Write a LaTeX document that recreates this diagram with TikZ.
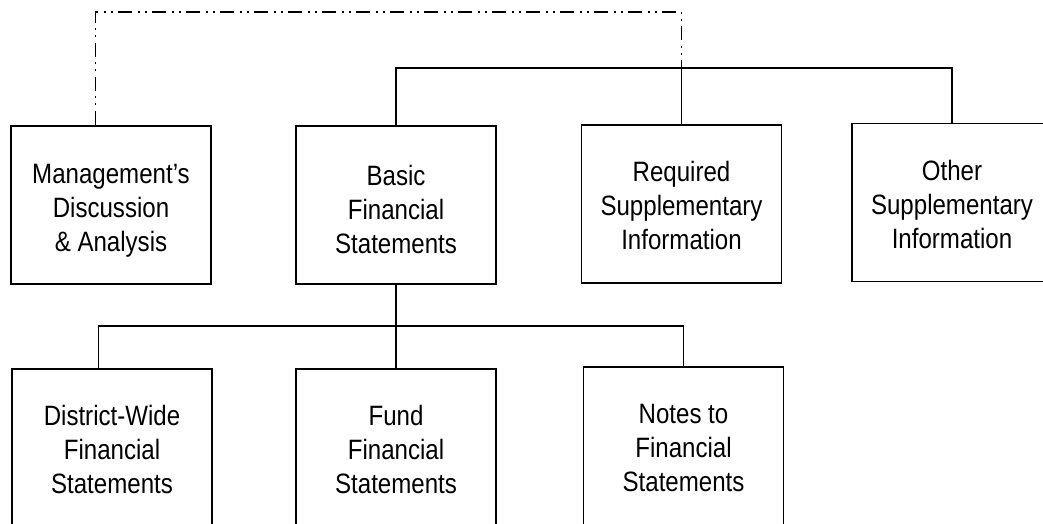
\documentclass[tikz,border=0pt]{standalone}
\usepackage{fontspec}
\newfontfamily\boxfont{Liberation Sans}[FakeStretch=0.86]
\usetikzlibrary{calc}
\newcommand{\dn}[1]{\rule{0pt}{\dimexpr 20pt+2\dimexpr #1\relax\relax}}
\tikzset{
  box/.style={draw, line width=1.4pt, minimum width=200pt, minimum height=158pt,
    inner sep=0pt, align=center, font=\boxfont\fontsize{28}{34}\selectfont},
  link/.style={line width=1.4pt},
  dashlink/.style={line width=1.6pt, dash pattern=on 14pt off 6pt on 2pt off 5pt on 2pt off 5pt}
}
\begin{document}
\begin{tikzpicture}[x=1pt, y=-1pt]
\useasboundingbox (0,0) rectangle (1043,524);
\clip (0,0) rectangle (1043,524);
\fill[white] (0,0) rectangle (1043,524);
% top row
\node[box] (mda)   at (111,205)   {\dn{5pt}Management’s\\Discussion\\\& Analysis};
\node[box] (basic) at (396,205)   {\dn{5pt}Basic\\Financial\\Statements};
\node[box] (req)   at (681.5,204) {\dn{2pt}Required\\Supplementary\\Information};
\node[box] (other) at (952,202.5) {\dn{2pt}Other\\Supplementary\\Information};
% bottom row
\node[box] (dist)  at (112,448)   {\dn{2pt}District-Wide\\Financial\\Statements};
\node[box] (fund)  at (396,448)   {\dn{2pt}Fund\\Financial\\Statements};
\node[box] (notes) at (683.5,446) {\dn{2pt}Notes to\\Financial\\Statements};
% bus coordinates
\coordinate (topbus) at (0,68);
\coordinate (dashtop) at (0,12);
\coordinate (botbus) at (0,326);
\coordinate (mdalink) at ([xshift=85pt]mda.north west);
\coordinate (distlink) at ([xshift=87pt]dist.north west);
% top connectors
\draw[link] (basic.north) |- (other.north |- topbus) -- (other.north);
\draw[link] (req.north) -- (req.north |- topbus);
% dash-dot-dot connector
\draw[dashlink] (mdalink) -- (mdalink |- dashtop) -| (req.north |- topbus);
% bottom connectors
\draw[link] (basic.south) -- (fund.north);
\draw[link] (distlink) |- (notes.north |- botbus) -- (notes.north);
\end{tikzpicture}
\end{document}
